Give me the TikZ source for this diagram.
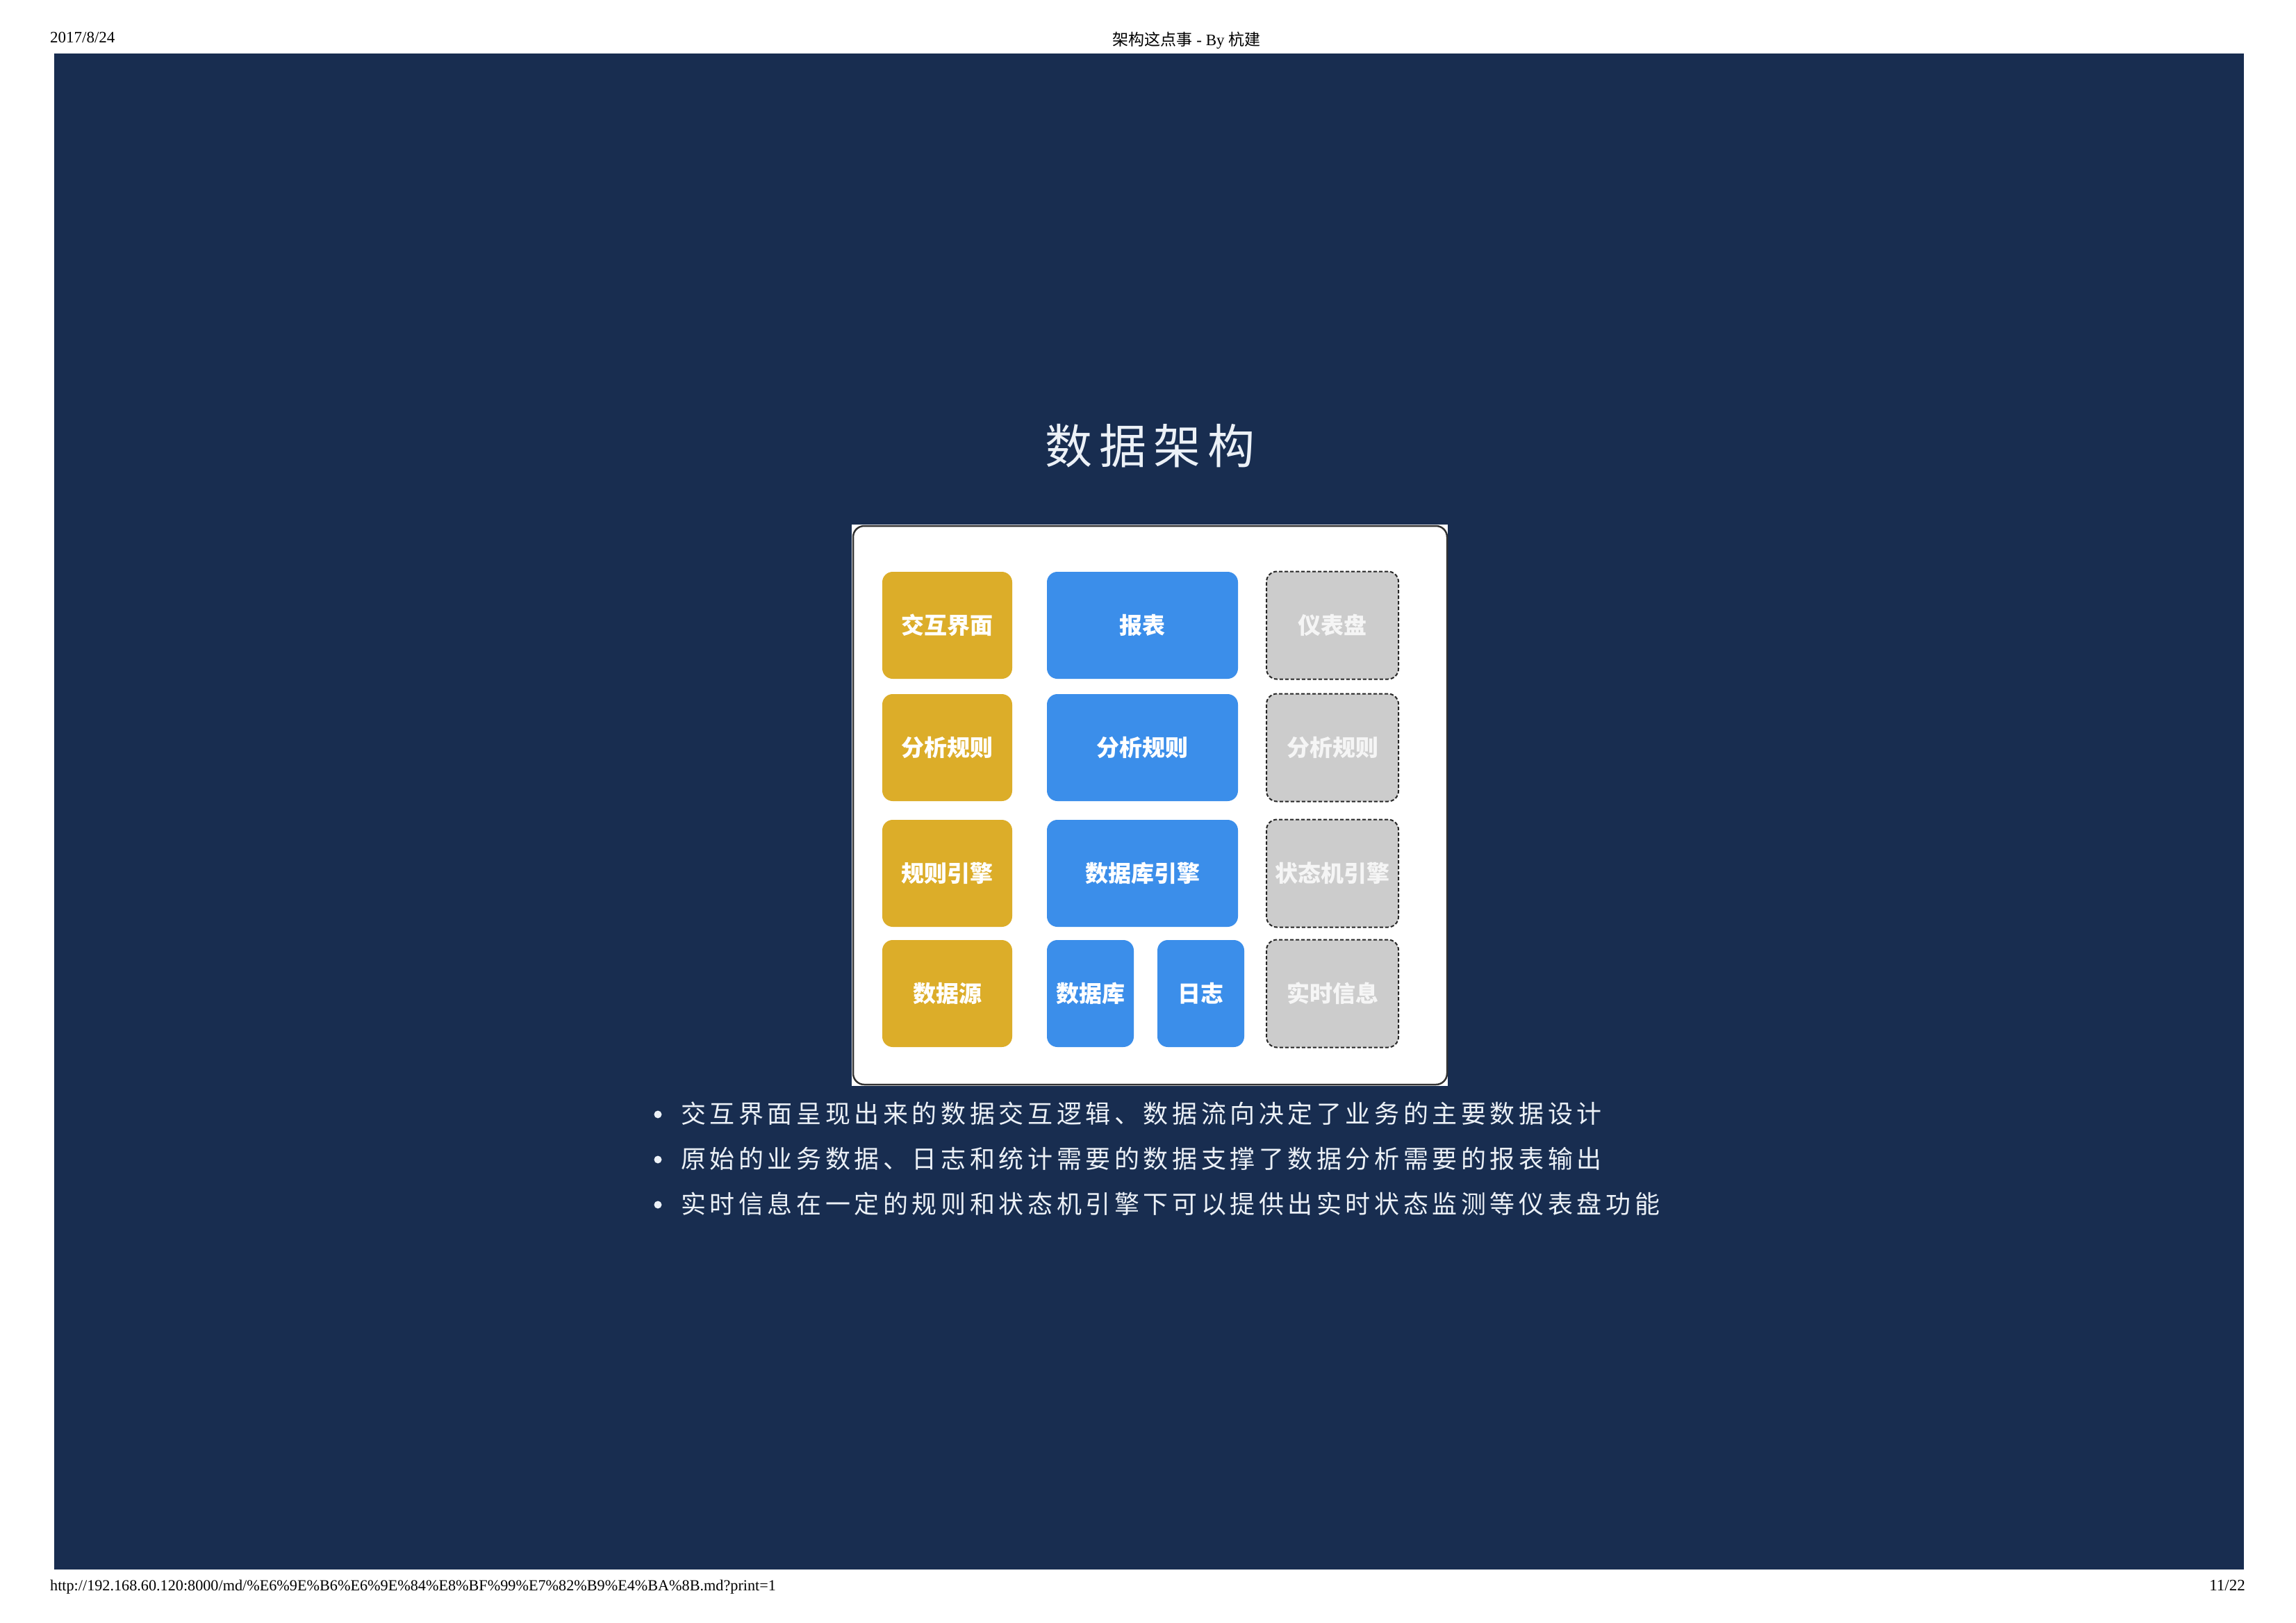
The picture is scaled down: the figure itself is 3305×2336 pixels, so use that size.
\documentclass[tikz,border=0pt]{standalone}
\usepackage{fontspec}
\setmainfont{Liberation Serif}
\newfontfamily\cjk{Noto Sans CJK SC}
\definecolor{navy}{RGB}{24,45,80}
\definecolor{yelc}{RGB}{220,173,41}
\definecolor{bluc}{RGB}{59,142,234}
\definecolor{grayc}{RGB}{204,204,204}
\definecolor{lightc}{RGB}{236,241,247}
\newlength\trk
\def\spc#1{\ifx#1\relax\else#1\hspace{\trk}\expandafter\spc\fi}
\begin{document}
\begin{tikzpicture}[x=1pt,y=-1pt,
  cell/.style={rounded corners=15pt, inner sep=0pt, outer sep=0pt, text=white,
    font=\cjk\bfseries\fontsize{33}{40}\selectfont},
  yel/.style={cell, fill=yelc, minimum width=187pt, minimum height=154pt},
  blu/.style={cell, fill=bluc, minimum width=275pt, minimum height=154pt},
  blusmall/.style={cell, fill=bluc, minimum width=125pt, minimum height=154pt},
  gry/.style={cell, fill=grayc, draw=black!85, line width=2pt, dash pattern=on 5pt off 3pt,
    minimum width=190pt, minimum height=155pt, text=white!96!black},
  hdr/.style={inner sep=0pt, font=\fontsize{23}{28}\selectfont, text=black},
  btext/.style={inner sep=0pt, anchor=west, text=lightc, font=\cjk\fontsize{36}{42}\selectfont},
  bdot/.style={circle, fill=lightc, inner sep=0pt, minimum size=11pt}
]
\useasboundingbox (0,0) rectangle (3305,2336);
\fill[white] (0,0) rectangle (3305,2336);
% header / footer
\node[hdr, anchor=base west] (date) at (72,62) {2017/8/24};
\node[hdr, anchor=base] (hdrtitle) at (1708,66) {{\cjk 架构这点事} - By {\cjk 杭建}};
\node[hdr, anchor=base west, font=\fontsize{22.2}{27}\selectfont] (url) at (72,2289) {http://192.168.60.120:8000/md/\%E6\%9E\%B6\%E6\%9E\%84\%E8\%BF\%99\%E7\%82\%B9\%E4\%BA\%8B.md?print=1};
\node[hdr, anchor=base east] (pg) at (3232,2289) {11/22};
% slide background
\fill[navy] (78,77) rectangle (3230,2259);
% title
\node[inner sep=0pt, text=lightc, font=\cjk\fontsize{68}{80}\selectfont] (title) at (1655,642)
  {\setlength\trk{10pt}\spc 数据架构\relax};
% panel
\fill[white] (1226,755) rectangle (2084,1563);
\draw[black!80, line width=2.5pt, rounded corners=16pt] (1228,757) rectangle (2083,1561);
% column 1
\node[yel] (y1) at (1363.5,900) {交互界面};
\node[yel] (y2) at (1363.5,1076) {分析规则};
\node[yel] (y3) at (1363.5,1257) {规则引擎};
\node[yel] (y4) at (1363.5,1430) {数据源};
% column 2
\node[blu] (b1) at (1644.5,900) {报表};
\node[blu] (b2) at (1644.5,1076) {分析规则};
\node[blu] (b3) at (1644.5,1257) {数据库引擎};
\node[blusmall] (b4) at (1569.5,1430) {数据库};
\node[blusmall] (b5) at (1728.5,1430) {日志};
% column 3
\node[gry] (g1) at (1918,900) {仪表盘};
\node[gry] (g2) at (1918,1076) {分析规则};
\node[gry] (g3) at (1918,1257) {状态机引擎};
\node[gry] (g4) at (1918,1430) {实时信息};
% bullets
\node[bdot] (d1) at (947,1604) {};
\node[bdot] (d2) at (947,1669) {};
\node[bdot] (d3) at (947,1734) {};
\node[btext] (t1) at (980,1603) {\setlength\trk{5.6pt}\spc 交互界面呈现出来的数据交互逻辑、数据流向决定了业务的主要数据设计\relax};
\node[btext] (t2) at (980,1668) {\setlength\trk{5.6pt}\spc 原始的业务数据、日志和统计需要的数据支撑了数据分析需要的报表输出\relax};
\node[btext] (t3) at (980,1733) {\setlength\trk{5.6pt}\spc 实时信息在一定的规则和状态机引擎下可以提供出实时状态监测等仪表盘功能\relax};
\end{tikzpicture}
\end{document}
